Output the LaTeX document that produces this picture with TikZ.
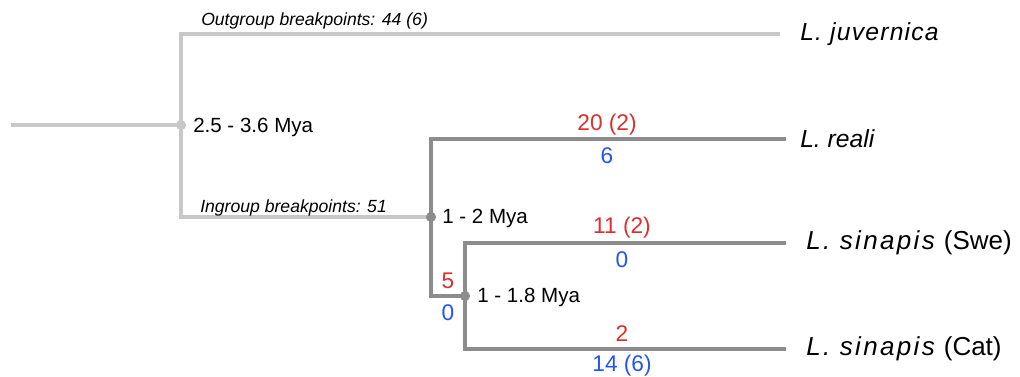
\documentclass[tikz,border=0pt]{standalone}
\usepackage{fontspec}
\setmainfont{Liberation Sans}
\definecolor{lgray}{HTML}{C8C8C8}
\definecolor{dgray}{HTML}{8C8C8C}
\definecolor{nred}{HTML}{D9302C}
\definecolor{nblue}{HTML}{2255F0}
\begin{document}
\begin{tikzpicture}[x=0.75pt,y=-0.75pt,
  light/.style={draw=lgray,line width=3.4pt,line join=miter},
  dark/.style={draw=dgray,line width=3.4pt,line join=miter},
  age/.style={anchor=west,inner sep=0pt,font=\fontsize{15.4}{18}\selectfont},
  bp/.style={anchor=west,inner sep=0pt,font=\fontsize{13.2}{15}\selectfont\itshape},
  taxon/.style={anchor=west,inner sep=0pt,font=\fontsize{18.5}{21}\selectfont},
  rednum/.style={inner sep=0pt,text=nred,font=\fontsize{17}{20}\selectfont},
  bluenum/.style={inner sep=0pt,text=nblue,font=\fontsize{17}{20}\selectfont}]
\useasboundingbox (0,0) rectangle (1020,377);
% branch points
\coordinate (root) at (11,125);
\coordinate (n0) at (181,125);
\coordinate (n1) at (431,217);
\coordinate (n2) at (465,296);
% taxa
\node[taxon] (juv) at (800,34) {\addfontfeatures{LetterSpace=5}\textit{L. juvernica}};
\node[taxon] (rea) at (800,139) {\textit{L. reali}};
\node[taxon,font=\fontsize{19.5}{22}\selectfont] (swe) at (806,243) {\addfontfeatures{LetterSpace=9}\textit{L. sinapis}\addfontfeatures{LetterSpace=0}\hspace{5pt}(Swe)};
\node[taxon,font=\fontsize{19.5}{22}\selectfont] (cat) at (806,349) {\addfontfeatures{LetterSpace=9}\textit{L. sinapis}\addfontfeatures{LetterSpace=0}\hspace{5pt}(Cat)};
% branches
\draw[light] (root) -- (n0);
\draw[light,shorten <=15pt] (juv.west) -| (n0) |- (n1);
\draw[dark,shorten <=10.5pt] (rea.west) -| (n1) |- (n2);
\draw[dark,shorten <=15pt,shorten >=15pt] (swe.west) -| (n2) |- (cat.west);
% dots
\fill[lgray] (n0) circle (3.8pt);
\fill[dgray] (n1) circle (3.8pt);
\fill[dgray] (n2) circle (3.8pt);
% ages
\node[age] (a0) at (193,127) {2.5 - 3.6 Mya};
\node[age] (a1) at (442,218) {1 - 2 Mya};
\node[age] (a2) at (477,297) {1 - 1.8 Mya};
% breakpoint labels
\node[bp] (og) at (201,21) {Outgroup breakpoints: 44 (6)};
\node[bp] (ig) at (200,208) {Ingroup breakpoints: 51};
% counts
\node[rednum] (r1) at (607,125) {20 (2)};
\node[bluenum] (b1) at (607,156) {6};
\node[rednum] (r2) at (622,228) {11 (2)};
\node[bluenum] (b2) at (622,260) {0};
\node[rednum] (r3) at (448,281) {5};
\node[bluenum] (b3) at (448,313) {0};
\node[rednum] (r4) at (622,334) {2};
\node[bluenum] (b4) at (622,366) {14 (6)};
\end{tikzpicture}
\end{document}
